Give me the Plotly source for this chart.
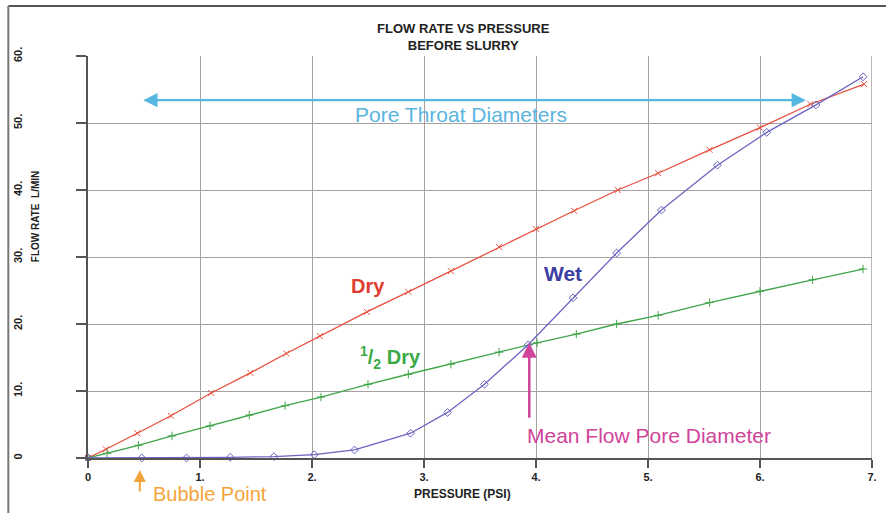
import plotly.graph_objects as go

dry_x = [0, 0.16, 0.44, 0.74, 1.10, 1.45, 1.77, 2.07, 2.49, 2.86, 3.24, 3.67, 4.00, 4.34, 4.73, 5.09, 5.55, 6.00, 6.45, 6.93]
dry_y = [0, 1.3, 3.7, 6.3, 9.7, 12.7, 15.6, 18.2, 21.8, 24.8, 27.9, 31.5, 34.2, 36.9, 40.0, 42.5, 46.0, 49.3, 52.8, 55.8]

half_x = [0, 0.17, 0.45, 0.75, 1.09, 1.44, 1.76, 2.08, 2.50, 2.86, 3.24, 3.67, 4.01, 4.36, 4.72, 5.09, 5.55, 6.00, 6.47, 6.92]
half_y = [0, 0.7, 1.9, 3.3, 4.8, 6.4, 7.8, 9.1, 11.0, 12.5, 14.0, 15.8, 17.2, 18.5, 20.0, 21.3, 23.2, 24.9, 26.6, 28.2]

wet_x = [0, 0.48, 0.88, 1.27, 1.66, 2.02, 2.38, 2.88, 3.21, 3.54, 3.93, 4.33, 4.72, 5.12, 5.62, 6.06, 6.50, 6.92]
wet_y = [0, 0.0, 0.0, 0.1, 0.2, 0.5, 1.2, 3.7, 6.8, 11.0, 16.9, 23.9, 30.6, 37.0, 43.7, 48.6, 52.7, 56.9]

x_ticks = [0, 1, 2, 3, 4, 5, 6, 7]
x_labels = ["0", "1.", "2.", "3.", "4.", "5.", "6.", "7."]
y_ticks = [0, 10, 20, 30, 40, 50, 60]
y_labels = ["0", "10.", "20.", "30.", "40.", "50.", "60."]

BOLD = "Liberation Sans"

fig = go.Figure()
fig.add_trace(go.Scatter(x=dry_x, y=dry_y, mode="lines+markers",
                         line=dict(color="#e8503f", width=1.3),
                         marker=dict(symbol="x-thin-open", size=6, color="#e8503f",
                                     line=dict(color="#e8503f", width=1)),
                         name="Dry", cliponaxis=False))
fig.add_trace(go.Scatter(x=half_x, y=half_y, mode="lines+markers",
                         line=dict(color="#3fa548", width=1.3),
                         marker=dict(symbol="cross-thin-open", size=6, color="#3fa548",
                                     line=dict(color="#3fa548", width=1)),
                         name="1/2 Dry", cliponaxis=False))
fig.add_trace(go.Scatter(x=wet_x, y=wet_y, mode="lines+markers",
                         line=dict(color="#6a64c2", width=1.3),
                         marker=dict(symbol="diamond-open", size=6, color="#6a64c2",
                                     line=dict(color="#6a64c2", width=1)),
                         name="Wet", cliponaxis=False))

ann = []
ann.append(dict(text="<b>FLOW RATE VS PRESSURE<br>BEFORE SLURRY</b>", xref="paper", yref="paper",
                x=(465 - 88) / 787, y=(458 - 37) / 402, xanchor="center", yanchor="middle",
                showarrow=False, font=dict(family=BOLD, size=13, color="#222")))
ann.append(dict(text="<b>FLOW RATE  L/MIN</b>", xref="paper", yref="paper",
                x=(35 - 88) / 787, y=(458 - 217) / 402, xanchor="center", yanchor="middle",
                textangle=-90, showarrow=False, font=dict(family=BOLD, size=10, color="#222")))
ann.append(dict(text="<b>PRESSURE (PSI)</b>", xref="paper", yref="paper",
                x=(464 - 88) / 787, y=(458 - 494) / 402, xanchor="center", yanchor="middle",
                showarrow=False, font=dict(family=BOLD, size=12, color="#222")))
# Pore throat arrow
ann.append(dict(x=6.41, y=53.4, ax=0.48, ay=53.4, xref="x", yref="y", axref="x", ayref="y",
                showarrow=True, arrowhead=2, arrowside="end+start", arrowsize=1.3, arrowwidth=2.2,
                arrowcolor="#55b6e0", text=""))
ann.append(dict(text="Pore Throat Diameters", x=(462 - 88) / 112.4, y=51.3, xref="x", yref="y",
                showarrow=False, font=dict(family="Liberation Sans", size=21, color="#5ab4e0")))
ann.append(dict(text="<b>Dry</b>", x=2.5, y=25.7, xref="x", yref="y", showarrow=False,
                font=dict(family=BOLD, size=20, color="#e03c31")))
ann.append(dict(text="<b>Wet</b>", x=4.24, y=27.6, xref="x", yref="y", showarrow=False,
                font=dict(family=BOLD, size=21, color="#3b3ea0")))
ann.append(dict(text="<b><sup>1</sup>/<sub>2</sub> Dry</b>", x=2.7, y=15.0, xref="x", yref="y", showarrow=False,
                font=dict(family=BOLD, size=20, color="#3aaa47")))
# Mean flow arrow
ann.append(dict(x=3.94, y=17.2, ax=3.94, ay=5.8, xref="x", yref="y", axref="x", ayref="y",
                showarrow=True, arrowhead=2, arrowsize=1.2, arrowwidth=2.5, arrowcolor="#d0449a", text=""))
ann.append(dict(text="Mean Flow Pore Diameter", x=(651 - 88) / 112.4, y=3.4, xref="x", yref="y",
                showarrow=False, font=dict(family="Liberation Sans", size=21, color="#d0449a")))
# Bubble point arrow (paper coords, below axis)
ann.append(dict(x=(140 - 88) / 787, y=(458 - 470) / 402, ax=0, ay=23, xref="paper", yref="paper",
                showarrow=True, arrowhead=2, arrowsize=1.2, arrowwidth=2, arrowcolor="#f3a53b", text=""))
ann.append(dict(text="Bubble Point", x=(210 - 88) / 787, y=(458 - 494) / 402, xref="paper", yref="paper",
                xanchor="center", yanchor="middle", showarrow=False,
                font=dict(family="Liberation Sans", size=20, color="#f3a53b")))

fig.update_layout(
    width=889, height=513,
    margin=dict(l=88, r=14, t=56, b=55),
    paper_bgcolor="white", plot_bgcolor="white",
    showlegend=False,
    annotations=ann,
    xaxis=dict(range=[0, 7], tickvals=x_ticks, ticktext=["<b>" + t + "</b>" for t in x_labels],
               showgrid=True, gridcolor="#a8a0a0", gridwidth=1, zeroline=False, showline=True,
               linecolor="#555", linewidth=1.5, ticks="outside", ticklen=8, tickcolor="#555",
               tickwidth=1.5, tickfont=dict(family=BOLD, size=11, color="#222"),
               ticklabelstandoff=0),
    yaxis=dict(range=[0, 60], tickvals=y_ticks, ticktext=["<b>" + t + "</b>" for t in y_labels],
               showgrid=True, gridcolor="#a8a0a0", gridwidth=1, zeroline=False, showline=True,
               linecolor="#555", linewidth=1.5, ticks="outside", ticklen=10, tickcolor="#555",
               tickwidth=1.5, tickangle=-90, tickfont=dict(family=BOLD, size=11, color="#222"),
               ticklabelstandoff=50),
    shapes=[
        dict(type="line", xref="paper", yref="paper", x0=(8 - 88) / 787, x1=(889 - 88) / 787,
             y0=(458 - 6) / 402, y1=(458 - 6) / 402, line=dict(color="#555", width=2)),
        dict(type="line", xref="paper", yref="paper", x0=(8 - 88) / 787, x1=(8 - 88) / 787,
             y0=(458 - 6) / 402, y1=(458 - 513) / 402, line=dict(color="#777", width=2)),
        dict(type="line", xref="x", yref="y", x0=7, x1=7, y0=0, y1=60,
             line=dict(color="#a8a0a0", width=1.5)),
    ],
)

fig.write_html("out.html", config={"displayModeBar": False},
               post_script="document.body.style.margin='0';document.body.style.overflow='hidden';")
